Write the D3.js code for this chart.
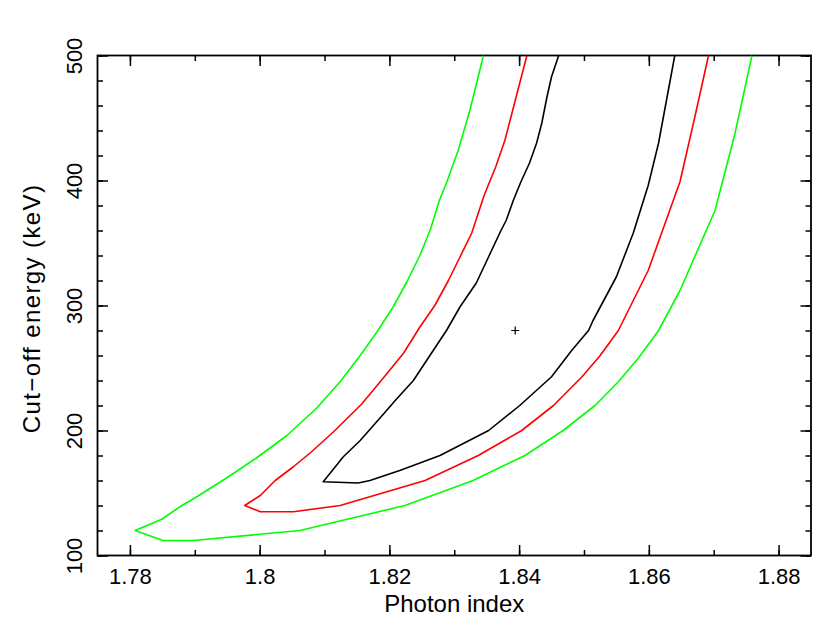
<!DOCTYPE html>
<html>
<head>
<meta charset="utf-8">
<script src="https://cdn.jsdelivr.net/npm/d3@7"></script>
<style>
  body { margin: 0; background: #fff; }
  text { font-family: "Liberation Sans", Arial, sans-serif; fill: #000; }
</style>
</head>
<body>
<svg id="chart"></svg>
<script>
// Contour levels (photon index vs cut-off energy)
const gamma68 = [1.8461, 1.8450, 1.8443, 1.8435, 1.8427, 1.8416, 1.8402, 1.8391, 1.8380, 1.8372, 1.8353, 1.8334, 1.8309, 1.8288, 1.8265, 1.8237, 1.8209, 1.8194, 1.8155, 1.8129, 1.8098, 1.8152, 1.8170, 1.8216, 1.8278, 1.8353, 1.8401, 1.8450, 1.8481, 1.8507, 1.8514, 1.8550, 1.8576, 1.8599, 1.8615, 1.8640];
const ecut68  = [500, 483, 467, 446, 430, 414, 398, 384, 368, 360, 339, 318, 299, 280, 262, 240, 224, 215, 192, 179, 159, 158, 160, 168, 180, 200, 220, 243, 264, 280, 288, 323, 358, 396, 430, 500];

const gamma90 = [1.8412, 1.8394, 1.8378, 1.8364, 1.8346, 1.8327, 1.8309, 1.8291, 1.8270, 1.8246, 1.8222, 1.8197, 1.8157, 1.8114, 1.8080, 1.8052, 1.8024, 1.8001, 1.7977, 1.8001, 1.8052, 1.8124, 1.8255, 1.8337, 1.8404, 1.8453, 1.8497, 1.8525, 1.8553, 1.8599, 1.8648, 1.8671, 1.8692];
const ecut90  = [500, 464, 432, 411, 388, 358, 339, 320, 300, 282, 262, 246, 221, 199, 183, 171, 160, 148, 140, 135, 135, 140, 160, 180, 200, 220, 243, 260, 280, 328, 399, 451, 500];

const gamma99 = [1.8345, 1.8324, 1.8306, 1.8288, 1.8277, 1.8264, 1.8247, 1.8227, 1.8206, 1.8181, 1.8155, 1.8124, 1.8088, 1.8042, 1.7995, 1.7949, 1.7900, 1.7880, 1.7849, 1.7808, 1.7851, 1.7898, 1.8062, 1.8224, 1.8329, 1.8409, 1.8468, 1.8517, 1.8553, 1.8584, 1.8615, 1.8648, 1.8702, 1.8733, 1.8759];
const ecut99  = [500, 456, 424, 398, 384, 362, 340, 319, 299, 279, 260, 239, 218, 196, 178, 162, 146, 140, 129, 120, 112, 112, 120, 140, 160, 180, 200, 220, 239, 258, 280, 312, 376, 438, 500];

const bestGamma = 1.8394, bestEcut = 280;

const xTicks = [1.78, 1.80, 1.82, 1.84, 1.86, 1.88];
const yTicks = [100, 200, 300, 400, 500];

// Layout
const width = 830, height = 642;
const margin = { top: 55.5, right: 19, bottom: 86.5, left: 97.5 };
const innerW = width - margin.left - margin.right;
const innerH = height - margin.top - margin.bottom;

const svg = d3.select("#chart").attr("width", width).attr("height", height);
const g = svg.append("g").attr("transform", `translate(${margin.left},${margin.top})`);

const x = d3.scaleLinear().domain([1.775, 1.885]).range([0, innerW]);
const y = d3.scaleLinear().domain([100, 500]).range([innerH, 0]);

// Clip contours to the frame
svg.append("defs").append("clipPath").attr("id", "plotClip")
  .append("rect").attr("width", innerW).attr("height", innerH);

const xMinor = d3.range(1.78, 1.8801, 0.01);
const yMinor = d3.range(100, 500.1, 20);
const fmt = d => String(+d.toFixed(2));

// Inward ticks on all four sides
function addAxis(axisFn, scale, major, minor, transform, withLabels) {
  const minorAxis = axisFn(scale).tickValues(minor).tickSize(-5.5).tickFormat("");
  const majorAxis = axisFn(scale).tickValues(major).tickSize(-10.5)
    .tickFormat(withLabels ? fmt : "");
  const gm = g.append("g").attr("transform", transform).call(minorAxis);
  const gM = g.append("g").attr("transform", transform).call(majorAxis);
  [gm, gM].forEach(a => {
    a.select(".domain").remove();
    a.selectAll("line").attr("stroke", "#000").attr("stroke-width", 1.5);
  });
  return gM;
}

const bottomAx = addAxis(d3.axisBottom, x, xTicks, xMinor, `translate(0,${innerH})`, true);
bottomAx.selectAll("text")
  .attr("y", 28).attr("dy", 0)
  .style("font-size", "22px");
addAxis(d3.axisTop, x, xTicks, xMinor, "translate(0,0)", false);

const leftAx = addAxis(d3.axisLeft, y, yTicks, yMinor, "translate(0,0)", true);
leftAx.selectAll("text")
  .attr("x", null).attr("dy", null)
  .attr("text-anchor", "middle")
  .attr("transform", "translate(-16,0) rotate(-90)")
  .style("font-size", "22px");
addAxis(d3.axisRight, y, yTicks, yMinor, `translate(${innerW},0)`, false);

// Frame
g.append("rect")
  .attr("width", innerW).attr("height", innerH)
  .attr("fill", "none").attr("stroke", "#000").attr("stroke-width", 1.8);

// Contours
const contours = [
  { gamma: gamma99, ecut: ecut99, color: "#00ff00" },
  { gamma: gamma90, ecut: ecut90, color: "#ff0000" },
  { gamma: gamma68, ecut: ecut68, color: "#000000" }
];

const line = d3.line().x(d => x(d[0])).y(d => y(d[1]));

g.append("g").attr("clip-path", "url(#plotClip)")
  .selectAll("path")
  .data(contours)
  .join("path")
  .attr("d", c => line(d3.zip(c.gamma, c.ecut)))
  .attr("fill", "none")
  .attr("stroke", c => c.color)
  .attr("stroke-width", 1.6)
  .attr("stroke-linejoin", "round");

// Best-fit marker
const bx = x(bestGamma), by = y(bestEcut), s = 4;
g.append("path")
  .attr("d", `M${bx - s},${by}H${bx + s}M${bx},${by - s}V${by + s}`)
  .attr("stroke", "#000").attr("stroke-width", 1.2).attr("fill", "none");

// Axis titles
svg.append("text")
  .attr("x", margin.left + innerW / 2).attr("y", 611.5)
  .attr("text-anchor", "middle")
  .style("font-size", "24px")
  .text("Photon index");

svg.append("text")
  .attr("transform", `translate(40,${margin.top + innerH / 2 + 3}) rotate(-90)`)
  .attr("text-anchor", "middle")
  .style("font-size", "24px")
  .style("letter-spacing", "1.4px")
  .text("Cut\u2212off energy (keV)");
</script>
</body>
</html>
